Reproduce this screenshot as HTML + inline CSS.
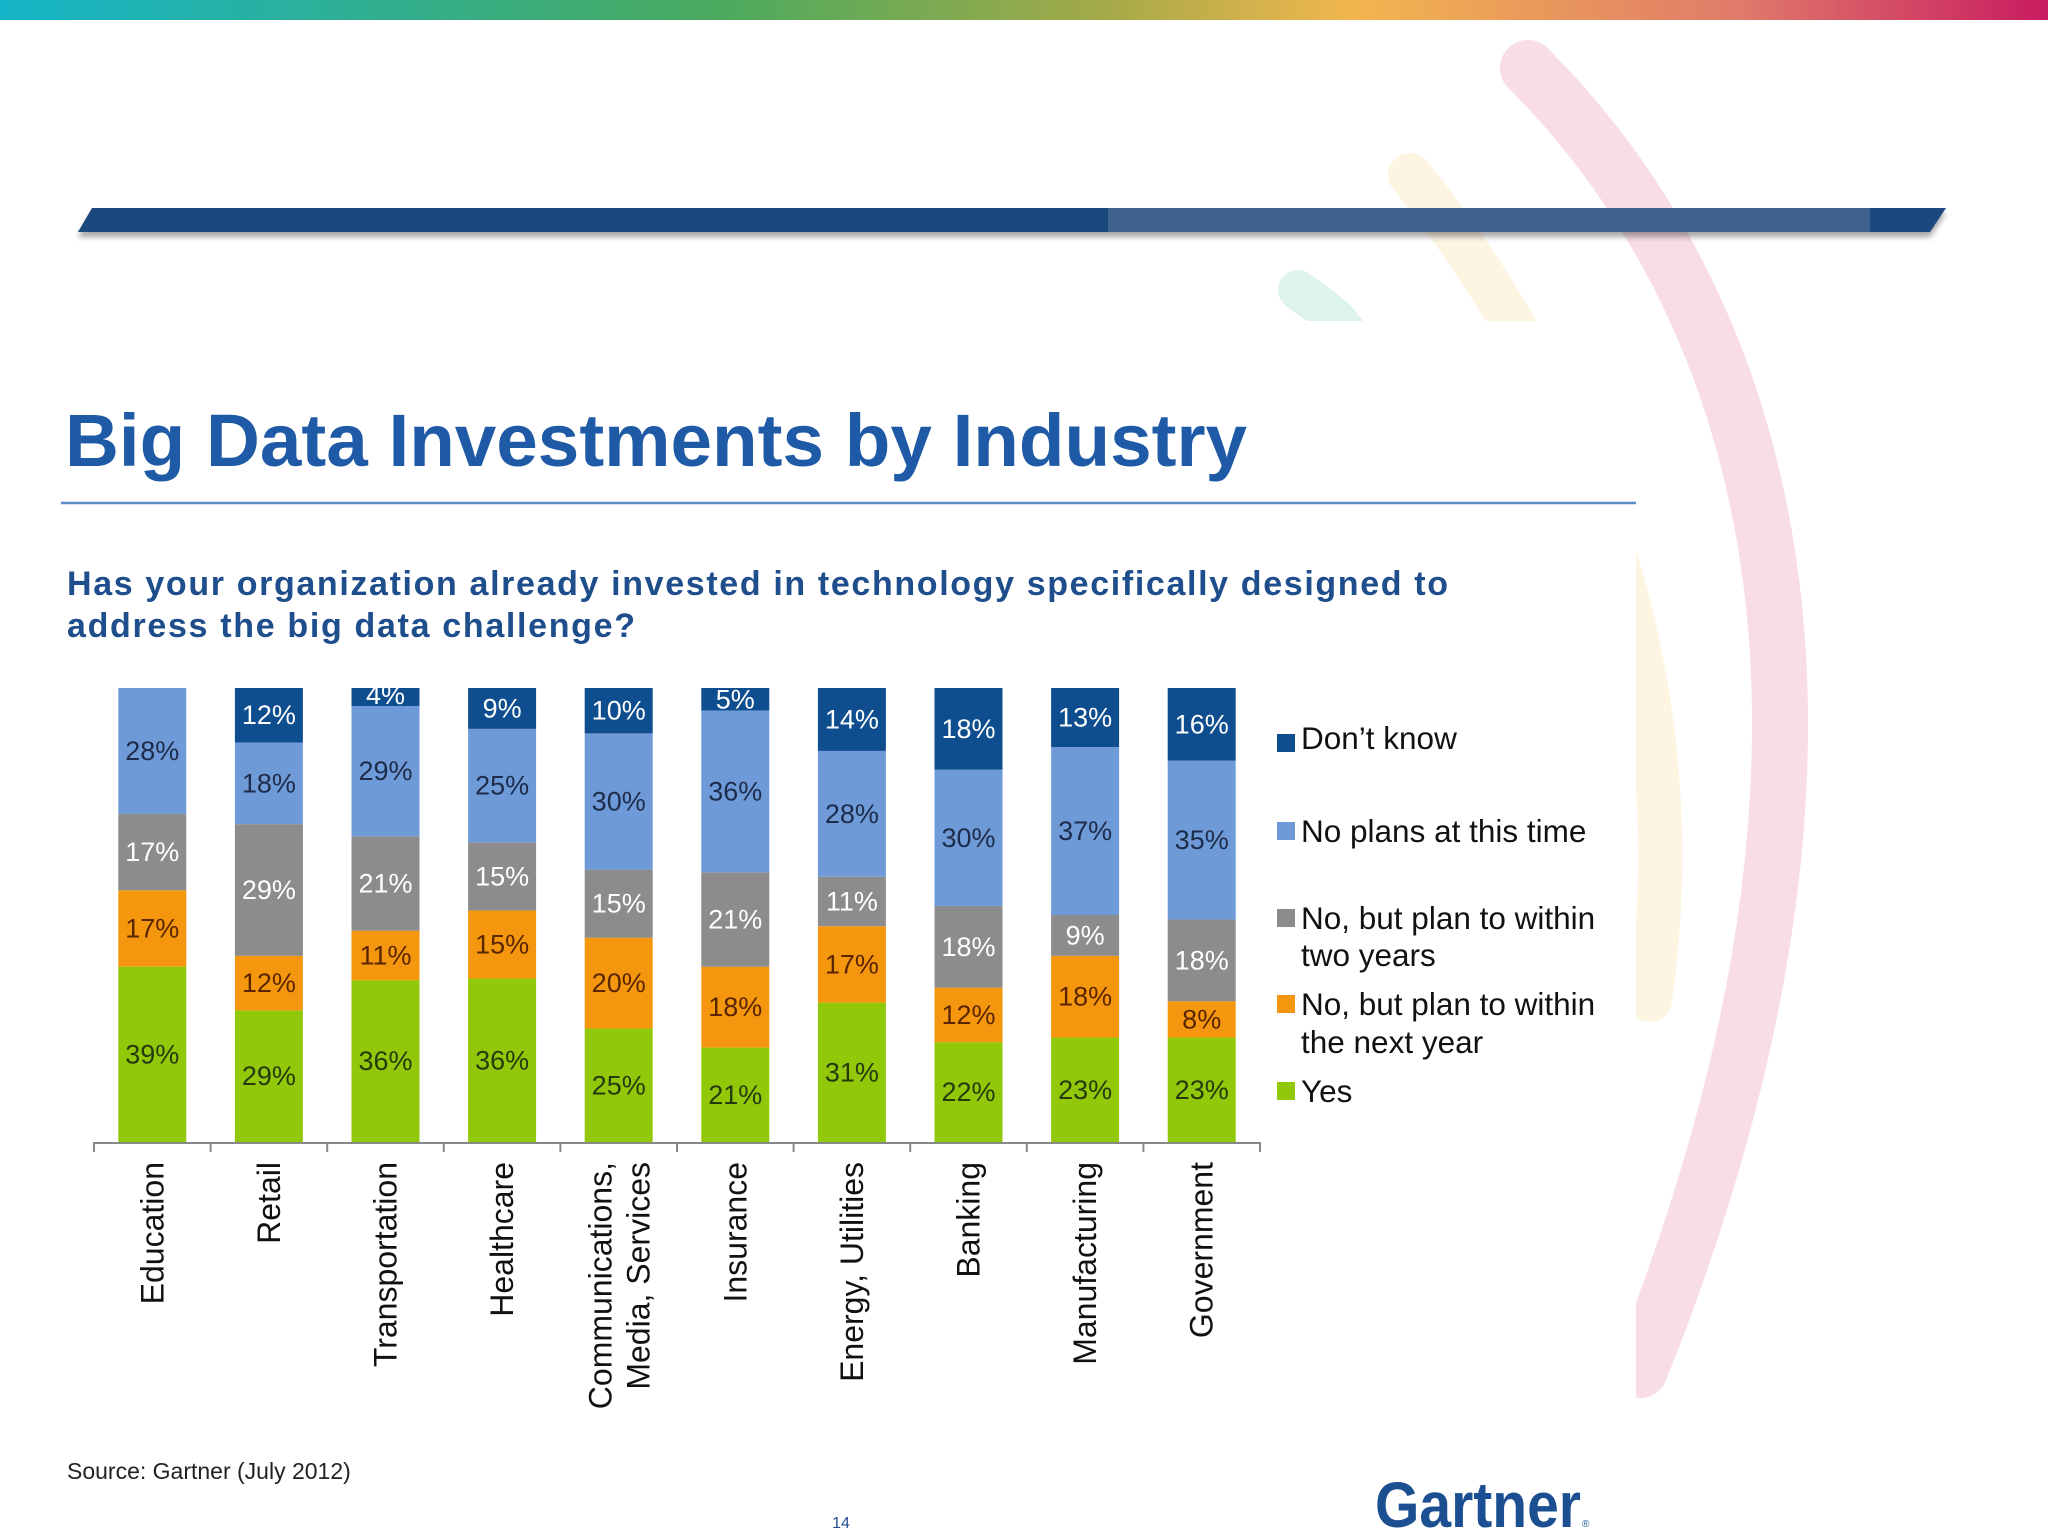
<!DOCTYPE html>
<html><head><meta charset="utf-8"><style>
html,body{margin:0;padding:0;background:#fff;}
body{width:2048px;height:1536px;position:relative;overflow:hidden;font-family:"Liberation Sans",Arial,sans-serif;}
svg{position:absolute;left:0;top:0;}
</style></head><body>
<svg id="s" width="2048" height="1536" viewBox="0 0 2048 1536">
<defs>
<linearGradient id="rb" x1="0" x2="1" y1="0" y2="0">
<stop offset="0" stop-color="#14b4c8"/><stop offset="0.35" stop-color="#4aaa5e"/><stop offset="0.54" stop-color="#a4aa48"/><stop offset="0.66" stop-color="#f2b64e"/><stop offset="0.85" stop-color="#e07a6a"/><stop offset="1" stop-color="#c81c60"/>
</linearGradient>
<filter id="sh" x="-5%" y="-50%" width="110%" height="200%"><feDropShadow dx="0" dy="5" stdDeviation="3" flood-color="#000" flood-opacity="0.35"/></filter>
</defs>
<rect x="0" y="0" width="2048" height="20" fill="url(#rb)"/>
<g>
<path d="M1528,68 C1760,300 1900,720 1640,1370" stroke="#f8dde8" stroke-width="56" fill="none" stroke-linecap="round"/>
<path d="M1410,175 C1560,360 1700,650 1650,1000" stroke="#fdf5e2" stroke-width="44" fill="none" stroke-linecap="round"/>
<path d="M1298,290 C1310,300 1330,310 1345,330" stroke="#def2ee" stroke-width="40" fill="none" stroke-linecap="round"/>
</g>
<polygon points="92,208 1946,208 1930,232 78,232" fill="#1f497d" filter="url(#sh)"/>
<polygon points="1108,208 1870,208 1870,232 1108,232" fill="#44668f" opacity="0.85"/>
<rect x="0" y="321" width="1636" height="1215" fill="#fff"/>
<text x="65" y="466" font-size="74" font-weight="bold" fill="#1f5aa6" textLength="1182" lengthAdjust="spacingAndGlyphs">Big Data Investments by Industry</text>
<line x1="61" y1="503" x2="1636" y2="503" stroke="#5b8ec8" stroke-width="2.5"/>
<text x="67" y="595" font-size="34" font-weight="bold" fill="#1f4e8c" textLength="1381" lengthAdjust="spacing">Has your organization already invested in technology specifically designed to</text>
<text x="67" y="637" font-size="34" font-weight="bold" fill="#1f4e8c" textLength="568" lengthAdjust="spacing">address the big data challenge?</text>
<g id="chart"></g>
<g font-size="31.5">
<g><rect x="1277" y="734" width="18" height="18" fill="#0f4e8e"/><text x="1301" y="749" fill="#111">Don’t know</text></g>
<g><rect x="1277" y="822" width="18" height="18" fill="#6f9ad8"/><text x="1301" y="842" fill="#111">No plans at this time</text></g>
<g><rect x="1277" y="909" width="18" height="18" fill="#8c8c8c"/><text x="1301" y="929" fill="#111">No, but plan to within</text><text x="1301" y="966" fill="#111">two years</text></g>
<g><rect x="1277" y="995" width="18" height="18" fill="#f5960f"/><text x="1301" y="1015" fill="#111">No, but plan to within</text><text x="1301" y="1053" fill="#111">the next year</text></g>
<g><rect x="1277" y="1082" width="18" height="18" fill="#92c80a"/><text x="1301" y="1102" fill="#111">Yes</text></g>
</g>
<text x="67" y="1479" font-size="23" fill="#222">Source: Gartner (July 2012)</text>
<text x="841" y="1528" font-size="16" fill="#1f4e8c" text-anchor="middle">14</text>
<text x="1375" y="1527" font-size="64" font-weight="bold" fill="#1b4f91" textLength="206" lengthAdjust="spacingAndGlyphs">Gartner</text>
<text x="1582" y="1527" font-size="10" fill="#1b4f91">®</text>
</svg>
<script>
var categories=["Education","Retail","Transportation","Healthcare","Communications,|Media, Services","Insurance","Energy, Utilities","Banking","Manufacturing","Government"];
var yesVals=[39,29,36,36,25,21,31,22,23,23];
var nextYearVals=[17,12,11,15,20,18,17,12,18,8];
var twoYearsVals=[17,29,21,15,15,21,11,18,9,18];
var noPlansVals=[28,18,29,25,30,36,28,30,37,35];
var dontKnowVals=[0,12,4,9,10,5,14,18,13,16];

var NS="http://www.w3.org/2000/svg";
var g=document.getElementById('chart');
var x0=94,x1=1260,yTop=688,yBot=1142,n=categories.length,step=(x1-x0)/n,bw=68;
function xc(i){return x0+step*(i+0.5);}
function mk(t,a,p){var e=document.createElementNS(NS,t);for(var k in a)e.setAttribute(k,a[k]);(p||g).appendChild(e);return e;}
var series=[
 {v:yesVals,c:"#92c80a",t:"#263a0e",n:"yes"},
 {v:nextYearVals,c:"#f5960f",t:"#5a2600",n:"next-year"},
 {v:twoYearsVals,c:"#8c8c8c",t:"#ffffff",n:"two-years"},
 {v:noPlansVals,c:"#6f9ad8",t:"#1c2c4a",n:"no-plans"},
 {v:dontKnowVals,c:"#0f4e8e",t:"#ffffff",n:"dont-know"}];
for(var i=0;i<n;i++){
 var tot=0;series.forEach(function(s){tot+=s.v[i];});
 var sc=(yBot-yTop)/tot,y=yBot;
 series.forEach(function(s){
  var v=s.v[i];if(!v)return;
  var h=v*sc;y-=h;
  var r=mk('rect',{x:xc(i)-bw/2,y:y,width:bw,height:h,fill:s.c});
  
  
  var ty=y+h/2+9;if(h<24)ty=y+h-2;
  var t=mk('text',{x:xc(i),y:ty,'font-size':27,'text-anchor':'middle',fill:s.t});
  t.textContent=v+'%';
  
  
 });
}
var ax=mk('line',{x1:x0,y1:yBot+1,x2:x1,y2:yBot+1,stroke:'#888','stroke-width':2});


for(var i=0;i<=n;i++){
 var tk=mk('line',{x1:x0+step*i,y1:yBot,x2:x0+step*i,y2:yBot+10,stroke:'#888','stroke-width':2});
 
 
}
for(var i=0;i<n;i++){
 var lines=categories[i].split('|');
 lines.forEach(function(L,j){
  var off=(lines.length===1)?11:(j===0?-7:31);
  var t=mk('text',{transform:'translate('+(xc(i)+off)+','+(yBot+20)+') rotate(-90)','font-size':32,'text-anchor':'end',fill:'#111'});
  t.textContent=L;
  
  
 });
}
</script>
</body></html>
